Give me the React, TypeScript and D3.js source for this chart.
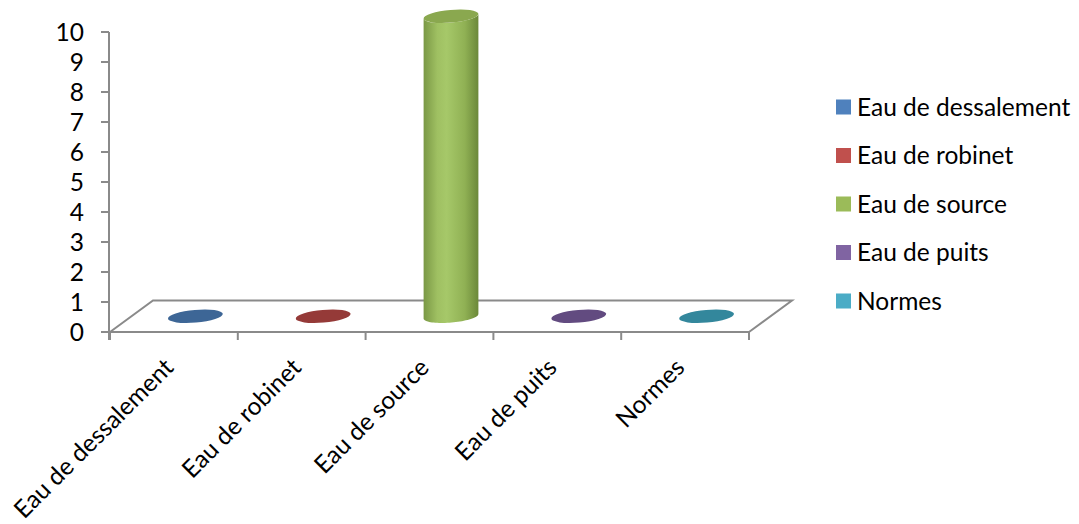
import React from "react";
import * as d3 from "d3";

const categories = ["Eau de dessalement", "Eau de robinet", "Eau de source", "Eau de puits", "Normes"];
const values = [0, 0, 10, 0, 0];
const legendColors = ["#4F81BD", "#C0504D", "#9BBB59", "#8064A2", "#4BACC6"];
const capColors = ["#3D6696", "#953A38", "#8AA84F", "#624B80", "#33879C"];
const yTicks = [0, 1, 2, 3, 4, 5, 6, 7, 8, 9, 10];

const W = 1079;
const H = 524;
const FONT = "Lato, 'Open Sans', sans-serif";
const FS = 24.5;
const AXIS = "#8A8A8A";

// floor depth offset (3D projection)
const DX = 43;
const DY = -31.5;

const x = d3.scaleBand<string>().domain(categories).range([110, 749]);
const y = d3.scaleLinear().domain([0, 10]).range([332, 32]);

const RX = 27.5;
const RY = 6.3;
const ROT = (-5 * Math.PI) / 180;

function ep(cx: number, cy: number, t: number): [number, number] {
  const ex = RX * Math.cos(t);
  const ey = RY * Math.sin(t);
  return [cx + ex * Math.cos(ROT) - ey * Math.sin(ROT), cy + ex * Math.sin(ROT) + ey * Math.cos(ROT)];
}

function cylinderSide(cx: number, yTop: number, yBot: number): string {
  const p = d3.path();
  const a = ep(cx, yTop, Math.PI);
  p.moveTo(a[0], a[1]);
  const b = ep(cx, yBot, Math.PI);
  p.lineTo(b[0], b[1]);
  for (let i = 0; i <= 40; i++) {
    const t = Math.PI - (Math.PI * i) / 40;
    const q = ep(cx, yBot, t);
    p.lineTo(q[0], q[1]);
  }
  const c = ep(cx, yTop, 0);
  p.lineTo(c[0], c[1]);
  for (let i = 0; i <= 40; i++) {
    const t = (Math.PI * i) / 40;
    const q = ep(cx, yTop, t);
    p.lineTo(q[0], q[1]);
  }
  p.closePath();
  return p.toString();
}

export default function App() {
  const x0 = x.range()[0];
  const x1 = x.range()[1];
  const y0 = y(0);
  return (
    <svg width={W} height={H} style={{ position: "absolute", left: 0, top: 0, background: "#fff" }} fontFamily={FONT}>
      <defs>
        <linearGradient id="cylGrad" x1="0" x2="1" y1="0" y2="0">
          <stop offset="0%" stopColor="#7A9845" />
          <stop offset="25%" stopColor="#9fc062" />
          <stop offset="42%" stopColor="#a6c869" />
          <stop offset="75%" stopColor="#90b154" />
          <stop offset="100%" stopColor="#6b8839" />
        </linearGradient>
      </defs>

      {/* floor: back and side edges */}
      <polyline
        points={`${x0},${y0} ${x0 + DX},${y0 + DY} ${x1 + DX},${y0 + DY} ${x1},${y0}`}
        fill="none"
        stroke={AXIS}
        strokeWidth={2}
      />

      {/* value axis */}
      <line x1={x0 - 1} x2={x0 - 1} y1={y(10)} y2={y0 + 8} stroke={AXIS} strokeWidth={2} />
      {yTicks.map((t) => (
        <g key={t}>
          <line x1={x0 - 9} x2={x0 - 1} y1={y(t)} y2={y(t)} stroke={AXIS} strokeWidth={2} />
          <text x={84} y={y(t)} dy="0.36em" textAnchor="end" fontSize={FS} fill="#000">
            {t}
          </text>
        </g>
      ))}

      {/* category axis */}
      <line x1={x0 - 1} x2={x1} y1={y0} y2={y0} stroke={AXIS} strokeWidth={2} />
      {[...categories.map((c) => x(c)!), x1].map((px, i) => (
        <line key={i} x1={px} x2={px} y1={y0} y2={y0 + 8} stroke={AXIS} strokeWidth={2} />
      ))}
      {categories.map((c) => {
        const cx = x(c)! + x.bandwidth() / 2;
        return (
          <text key={c} transform={`translate(${cx + 1},${369}) rotate(-45)`} textAnchor="end" fontSize={FS} fill="#000">
            {c}
          </text>
        );
      })}

      {/* columns */}
      {categories.map((c, i) => {
        const cx = x(c)! + x.bandwidth() / 2 + DX / 2;
        const yb = y(0) + DY / 2;
        const yt = y(values[i]) + DY / 2;
        if (values[i] <= 0) {
          return <ellipse key={c} cx={cx} cy={yb} rx={RX} ry={RY} transform={`rotate(-5 ${cx} ${yb})`} fill={capColors[i]} />;
        }
        return (
          <g key={c}>
            <path d={cylinderSide(cx, yt, yb)} fill="url(#cylGrad)" />
            <ellipse cx={cx} cy={yt} rx={RX} ry={RY} transform={`rotate(-5 ${cx} ${yt})`} fill={capColors[i]} />
          </g>
        );
      })}

      {/* legend */}
      {categories.map((c, i) => {
        const ly = 107 + i * 48.5;
        return (
          <g key={c}>
            <rect x={836} y={ly - 7.5} width={15} height={15} fill={legendColors[i]} />
            <text x={857} y={ly} dy="0.36em" fontSize={FS} fill="#000">
              {c}
            </text>
          </g>
        );
      })}
    </svg>
  );
}
